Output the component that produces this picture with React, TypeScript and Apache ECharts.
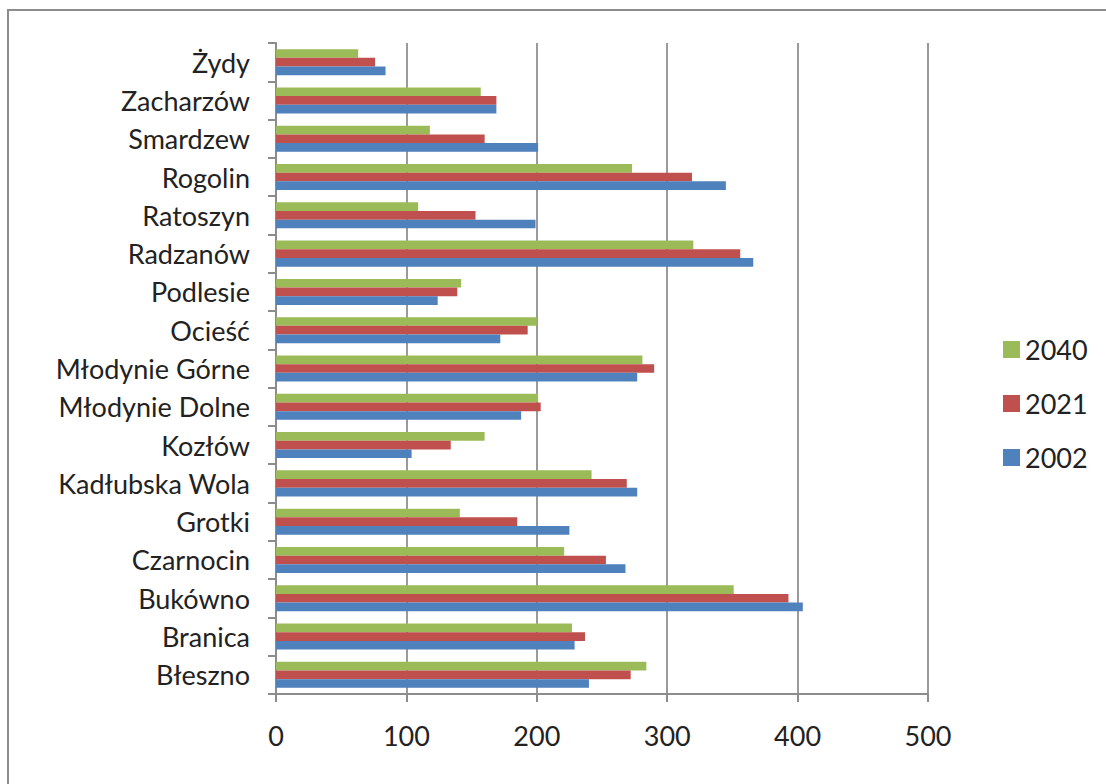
import React, { useEffect, useRef } from "react";
import * as echarts from "echarts";

const categories = [
  "Błeszno", "Branica", "Bukówno", "Czarnocin", "Grotki", "Kadłubska Wola",
  "Kozłów", "Młodynie Dolne", "Młodynie Górne", "Ocieść", "Podlesie",
  "Radzanów", "Ratoszyn", "Rogolin", "Smardzew", "Zacharzów", "Żydy",
];
const values2002 = [240, 229, 404, 268, 225, 277, 104, 188, 277, 172, 124, 366, 199, 345, 201, 169, 84];
const values2021 = [272, 237, 393, 253, 185, 269, 134, 203, 290, 193, 139, 356, 153, 319, 160, 169, 76];
const values2040 = [284, 227, 351, 221, 141, 242, 160, 201, 281, 200, 142, 320, 109, 273, 118, 157, 63];
const xTicks = [0, 100, 200, 300, 400, 500];

export default function App() {
  const ref = useRef<HTMLDivElement>(null);
  useEffect(() => {
    if (!ref.current) return;
    const chart = echarts.init(ref.current, null, { renderer: "svg" });
    const font = "Lato, 'Open Sans', sans-serif";
    chart.setOption({
      animation: false,
      backgroundColor: "#ffffff",
      textStyle: { fontFamily: font },
      graphic: [
        {
          type: "rect",
          shape: { x: 8, y: 10, width: 1120, height: 800 },
          style: { fill: "none", stroke: "#8c8c8c", lineWidth: 2 },
          silent: true,
        },
      ],
      legend: {
        orient: "vertical",
        left: 998,
        top: 331,
        itemWidth: 17,
        itemHeight: 17,
        itemGap: 27,
        icon: "rect",
        data: ["2040", "2021", "2002"],
        textStyle: { fontSize: 27, color: "#222", fontFamily: font },
      },
      grid: { left: 276, right: 178, top: 43, bottom: 90 },
      xAxis: {
        type: "value",
        min: 0,
        max: 500,
        interval: 100,
        axisLine: { show: true, lineStyle: { color: "#8c8c8c", width: 2 } },
        axisTick: { show: true, length: 8, lineStyle: { color: "#8c8c8c", width: 2 } },
        splitLine: { show: true, lineStyle: { color: "#9a9a9a", width: 2 } },
        axisLabel: {
          fontSize: 27,
          color: "#222",
          margin: 28,
          fontFamily: font,
          formatter: (v: number) => (xTicks.includes(v) ? String(v) : ""),
        },
      },
      yAxis: {
        type: "category",
        data: categories,
        axisLine: { show: true, lineStyle: { color: "#8c8c8c", width: 2 } },
        axisTick: { show: true, length: 8, lineStyle: { color: "#8c8c8c", width: 2 } },
        axisLabel: { fontSize: 27, color: "#222", margin: 26, fontFamily: font },
      },
      series: [
        { name: "2040", type: "bar", data: values2040, itemStyle: { color: "#9bbb59" }, barGap: "0%", barCategoryGap: "32%" },
        { name: "2021", type: "bar", data: values2021, itemStyle: { color: "#c0504d" }, barGap: "0%", barCategoryGap: "32%" },
        { name: "2002", type: "bar", data: values2002, itemStyle: { color: "#4f81bd" }, barGap: "0%", barCategoryGap: "32%" },
      ],
    });
    return () => chart.dispose();
  }, []);
  return (
    <div
      ref={ref}
      style={{ position: "absolute", left: 0, top: 0, width: 1106, height: 784 }}
    />
  );
}
